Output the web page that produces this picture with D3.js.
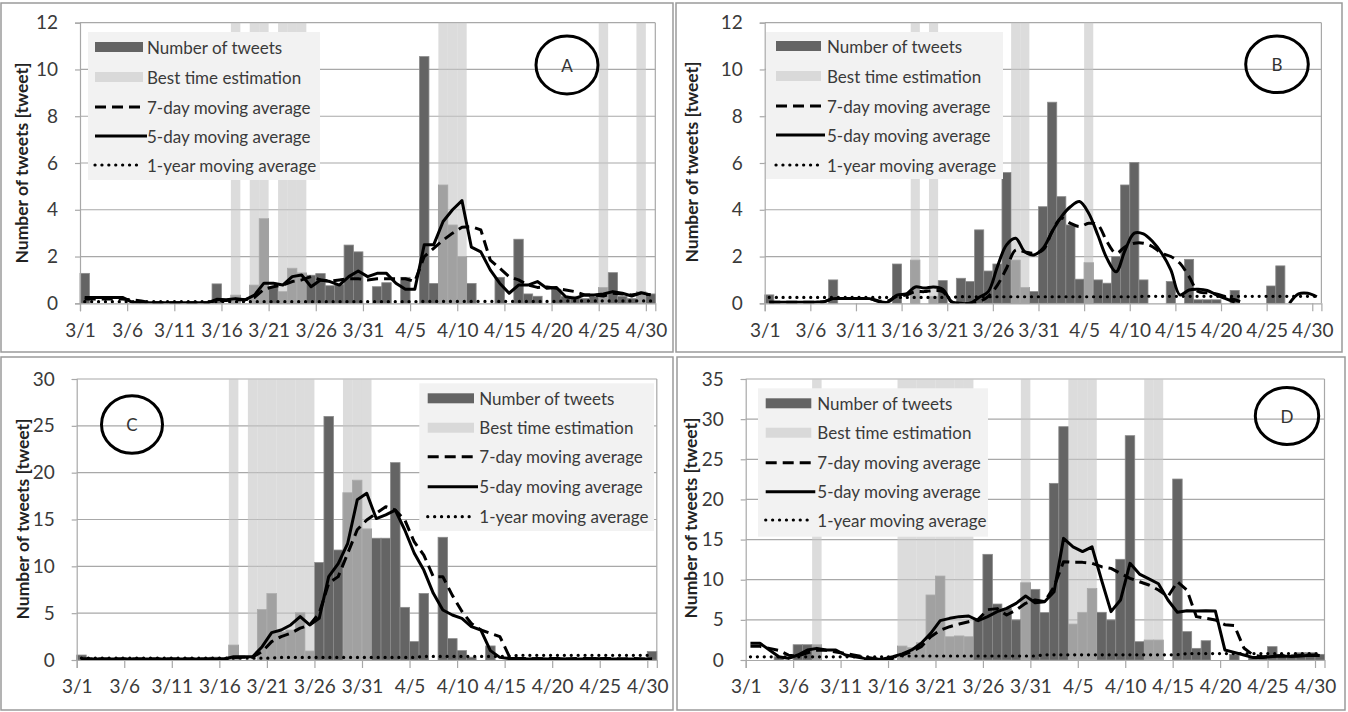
<!DOCTYPE html>
<html>
<head>
<meta charset="utf-8">
<script src="https://cdn.jsdelivr.net/npm/d3@7"></script>
<style>
body { margin: 0; background: #fff; }
svg { display: block; font-family: Lato, "Open Sans", sans-serif; }
</style>
</head>
<body>
<svg id="chart" width="1348" height="712"></svg>
<script>
var days = ["3/1","3/2","3/3","3/4","3/5","3/6","3/7","3/8","3/9","3/10",
  "3/11","3/12","3/13","3/14","3/15","3/16","3/17","3/18","3/19","3/20",
  "3/21","3/22","3/23","3/24","3/25","3/26","3/27","3/28","3/29","3/30",
  "3/31","4/1","4/2","4/3","4/4","4/5","4/6","4/7","4/8","4/9",
  "4/10","4/11","4/12","4/13","4/14","4/15","4/16","4/17","4/18","4/19",
  "4/20","4/21","4/22","4/23","4/24","4/25","4/26","4/27","4/28","4/29",
  "4/30"];
var tickDays = ["3/1","3/6","3/11","3/16","3/21","3/26","3/31","4/5","4/10","4/15","4/20","4/25","4/30"];
var legendLabels = ["Number of tweets","Best time estimation","7-day moving average","5-day moving average","1-year moving average"];

// panel A
var tweetsA = [1.28,0,0,0,0,0,0,0,0,0,
  0,0,0,0,0.83,0,0.35,0,0.78,3.62,
  0.7,0.5,1.5,1.3,1.2,1.27,0.75,0.8,2.49,2.2,
  0,0.71,0.88,0,1.11,0,10.55,0.85,5.06,3.35,
  2.0,0.85,0,0,1.11,0,2.74,0.4,0.3,0,
  0.6,0.3,0.3,0.2,0.3,0.68,1.31,0.3,0.2,0.5,
  0.4];
var ma5A = [0.25,0.25,0.25,0.25,0.25,0.05,0.02,0.02,0.02,0.02,
  0.02,0.02,0.02,0.02,0.17,0.15,0.2,0.15,0.35,0.86,
  0.86,0.78,1.14,1.21,0.71,1.0,0.93,0.78,1.14,1.38,
  1.14,1.28,1.28,0.86,0.6,0.6,2.5,2.5,3.5,4.0,
  4.39,2.4,2.2,1.43,0.86,0.43,0.78,0.78,0.93,0.64,
  0.68,0.28,0.21,0.36,0.36,0.4,0.5,0.43,0.31,0.45,
  0.36];
var ma7A = [0.18,0.18,0.18,0.18,0.18,0.15,0.1,0.02,0.02,0.02,
  0.02,0.02,0.02,0.02,0.12,0.12,0.15,0.15,0.25,0.6,
  0.71,0.78,0.93,1.0,1.14,1.0,0.95,1.0,1.05,1.05,
  1.0,1.05,1.05,1.05,1.05,0.93,2.0,2.35,2.7,3.0,
  3.25,3.28,3.14,1.85,1.5,1.14,1.0,0.78,0.68,0.7,
  0.64,0.57,0.5,0.36,0.36,0.31,0.43,0.4,0.36,0.43,
  0.36];
var ma1yA = [0.07,0.07,0.07,0.07,0.07,0.07,0.07,0.07,0.07,0.07,
  0.07,0.07,0.07,0.07,0.07,0.07,0.07,0.07,0.07,0.07,
  0.07,0.07,0.07,0.07,0.07,0.07,0.07,0.07,0.07,0.07,
  0.07,0.07,0.07,0.07,0.07,0.07,0.08,0.08,0.08,0.08,
  0.08,0.08,0.08,0.08,0.08,0.08,0.08,0.08,0.08,0.08,
  0.08,0.1,0.1,0.1,0.1,0.1,0.1,0.1,0.1,0.1,
  0.1];
var bestA = ["3/17","3/19","3/20","3/22","3/23","3/24","4/8","4/9","4/10","4/25","4/29"];

// panel B
var tweetsB = [0.36,0,0,0,0,0,0,1.0,0,0,
  0,0,0,0,1.68,0,1.85,0,0.3,0.97,
  0,1.07,0.93,3.14,1.38,1.68,5.59,1.85,0.68,0.5,
  4.13,8.6,4.56,3.35,1.03,1.74,1.0,0.86,2.0,5.06,
  6.02,1.0,0,0,0.93,0,1.88,0.15,0.15,0.15,
  0,0.55,0,0,0,0.74,1.6,0,0,0,
  0];
var ma5B = [0.05,0.05,0.05,0.05,0.05,0.05,0.07,0.2,0.2,0.2,
  0.2,0.2,0.08,0.05,0.35,0.4,0.7,0.65,0.7,0.6,
  0.07,0,0,0.26,0.5,1.57,2.5,2.78,2.2,2.07,
  2.35,3.07,3.7,4.13,4.35,3.85,2.92,1.92,1.35,2.28,
  3.0,2.97,2.64,2.14,1.43,0.36,0.57,0.6,0.55,0.36,
  0.2,0.05,null,null,null,null,null,0,0.4,0.43,
  0.28];
var ma7B = [0.05,0.05,0.05,0.05,0.05,0.05,0.07,0.2,0.2,0.2,
  0.2,0.2,0.1,0.1,0.3,0.35,0.5,0.5,0.55,0.5,
  0.05,0,0,0.07,0.3,0.78,1.5,2.28,2.2,2.14,
  2.28,3.07,3.64,3.42,3.28,3.42,3.35,2.64,2.14,2.42,
  2.57,2.57,2.42,2.14,2.0,1.71,1.14,0.5,0.45,0.4,
  0.28,0.15,0.02,null,null,null,null,null,null,null,
  null];
var ma1yB = [0.25,0.25,0.25,0.25,0.25,0.25,0.25,0.25,0.25,0.25,
  0.25,0.25,0.25,0.25,0.25,0.25,0.25,0.25,0.25,0.25,
  0.25,0.28,0.28,0.28,0.28,0.28,0.28,0.28,0.28,0.28,
  0.28,0.28,0.28,0.28,0.28,0.28,0.28,0.28,0.28,0.28,
  0.28,0.3,0.3,0.3,0.3,0.3,0.3,0.3,0.3,0.3,
  0.3,0.3,0.3,0.3,0.3,0.3,0.3,0.3,0.3,0.3,
  0.3];
var bestB = ["3/17","3/19","3/28","3/29","4/5"];

// panel C
var tweetsC = [0.53,0,0,0,0,0,0,0,0,0,
  0,0,0,0,0.3,0,1.6,0,0,5.4,
  7.1,3.0,3.2,5.05,0.96,10.4,26.0,11.74,17.86,19.2,
  14.0,13.0,13.0,21.07,5.62,1.96,7.1,0,13.1,2.28,
  1.0,0.3,0,1.5,0,0,0,0,0,0,
  0,0,0,0,0,0,0,0,0,0,
  0.9];
var ma5C = [0.1,0.1,0.1,0.1,0.1,0.1,0.1,0.1,0.1,0.1,
  0.1,0.1,0.1,0.1,0.1,0.1,0.35,0.35,0.35,1.42,
  2.92,3.2,3.74,4.63,3.74,4.45,8.9,10.3,12.46,17.1,
  17.8,15.1,15.5,16.0,13.88,11.4,9.6,7.12,5.34,4.8,
  4.45,3.56,3.2,1.0,0.28,0.15,0.15,0.12,0.15,0.1,
  0.15,0.12,0.1,0.12,0.15,0.1,0.12,0.1,0.1,0.12,
  0.1];
var ma7C = [0.1,0.1,0.1,0.1,0.1,0.1,0.1,0.1,0.1,0.1,
  0.1,0.1,0.1,0.1,0.1,0.1,0.25,0.3,0.3,0.9,
  1.96,2.5,2.85,3.4,3.74,4.98,8.2,8.9,11.4,13.9,
  14.95,15.66,16.37,16.0,14.95,12.6,11.2,8.9,8.9,6.9,
  5.2,3.9,3.2,2.85,2.5,0.36,0.15,0.15,0.12,0.15,
  0.15,0.12,0.15,0.15,0.12,0.15,0.15,0.12,0.15,0.12,
  0.12];
var ma1yC = [0.2,0.2,0.2,0.2,0.2,0.2,0.2,0.2,0.2,0.2,
  0.2,0.2,0.2,0.2,0.2,0.2,0.2,0.2,0.2,0.2,
  0.2,0.28,0.28,0.28,0.28,0.28,0.28,0.28,0.28,0.28,
  0.28,0.28,0.28,0.28,0.28,0.28,0.38,0.38,0.38,0.38,
  0.38,0.38,0.38,0.38,0.38,0.38,0.5,0.5,0.5,0.5,
  0.5,0.5,0.5,0.5,0.5,0.5,0.5,0.5,0.5,0.5,
  0.5];
var bestC = ["3/17","3/19","3/20","3/21","3/22","3/23","3/24","3/25","3/29","3/30","3/31"];

// panel D
var tweetsD = [0,0,0,0.4,0,1.9,1.9,1.9,0,0,
  0,0,0,0,0,0,1.74,1.54,2.16,8.1,
  10.46,2.9,3.0,2.9,4.98,13.16,6.97,6.43,4.98,9.63,
  8.8,5.9,22.0,29.06,4.48,5.94,8.92,5.94,4.98,12.54,
  27.94,2.28,2.49,2.49,0,22.54,3.53,1.45,2.4,0,
  0,0.7,0,0.3,0.3,1.66,0.5,0.3,0.9,0.9,
  0.7];
var ma5D = [2.08,2.08,1.25,0.41,0.2,0.62,1.25,1.45,1.25,1.25,
  0.62,0.4,0.2,0.1,0.12,0.42,0.75,1.25,2.08,3.32,
  4.9,5.19,5.4,5.48,4.9,5.4,6.02,6.43,7.06,7.97,
  7.14,7.26,8.5,15.15,14.1,13.5,14.1,9.96,6.02,7.47,
  12.04,10.7,10.1,9.5,7.47,5.94,6.14,6.1,6.14,6.1,
  1.25,0.95,0.62,0.3,0.3,0.45,0.5,0.45,0.5,0.6,
  0.55];
var ma7D = [1.7,1.7,1.45,1.2,0.6,0.5,0.9,1.2,1.2,1.0,
  0.8,0.6,0.4,0.2,0.1,0.2,0.62,1.04,1.66,2.9,
  3.7,4.15,4.48,4.77,5.06,6.27,6.4,5.6,6.23,7.06,
  7.47,7.26,9.13,12.25,12.16,12.16,12.04,11.62,11.41,10.79,
  10.17,9.75,9.34,8.72,7.89,9.75,8.72,5.4,5.19,4.98,
  4.4,4.3,1.5,0.6,0.4,0.5,0.55,0.5,0.55,0.6,
  0.6];
var ma1yD = [0.4,0.4,0.4,0.4,0.4,0.4,0.4,0.4,0.4,0.4,
  0.4,0.4,0.4,0.4,0.4,0.4,0.5,0.5,0.5,0.5,
  0.5,0.5,0.5,0.5,0.5,0.5,0.5,0.5,0.5,0.5,
  0.5,0.65,0.65,0.65,0.65,0.65,0.65,0.65,0.65,0.65,
  0.65,0.65,0.65,0.65,0.65,0.65,0.8,0.8,0.8,0.8,
  0.8,0.8,0.8,0.8,0.8,0.8,0.8,0.8,0.8,0.8,
  0.8];
var bestD = ["3/8","3/17","3/18","3/19","3/20","3/21","3/22","3/23","3/24","3/30","4/4","4/5","4/6","4/12","4/13"];

var panels = [
  {id: "A", tweets: tweetsA, ma7: ma7A, ma5: ma5A, ma1y: ma1yA, best: bestA, yMax: 12, yStep: 2, smooth: false,
   frame: [1, 3, 672, 349], plot: {x0: 80, x1: 655.3, yTop: 22.7, y0: 303.3}, title: [21, 163],
   legend: {x: 88, y: 32, w: 232, h: 148, sx0: 95, sx1: 143, tx: 147, rows: [47, 77, 107, 136, 165]},
   circle: {cx: 567, cy: 65, rx: 31, ry: 29}},
  {id: "B", tweets: tweetsB, ma7: ma7B, ma5: ma5B, ma1y: ma1yB, best: bestB, yMax: 12, yStep: 2, smooth: true,
   frame: [676, 3, 666, 349], plot: {x0: 764.7, x1: 1321.4, yTop: 22.7, y0: 303.3}, title: [691, 162],
   legend: {x: 766, y: 32, w: 237, h: 147, sx0: 776, sx1: 821, tx: 827, rows: [46, 76, 106, 135, 165]},
   circle: {cx: 1277, cy: 64.3, rx: 31.3, ry: 28.3}},
  {id: "C", tweets: tweetsC, ma7: ma7C, ma5: ma5C, ma1y: ma1yC, best: bestC, yMax: 30, yStep: 5, smooth: false,
   frame: [1, 357, 672, 353], plot: {x0: 76.7, x1: 656.8, yTop: 379, y0: 660}, title: [22, 519],
   legend: {x: 419.3, y: 383.3, w: 234.7, h: 147.7, sx0: 427.7, sx1: 474, tx: 479.3, rows: [398.3, 427.7, 456.7, 486.7, 516.7]},
   circle: {cx: 132, cy: 424.5, rx: 30.5, ry: 28.8}},
  {id: "D", tweets: tweetsD, ma7: ma7D, ma5: ma5D, ma1y: ma1yD, best: bestD, yMax: 35, yStep: 5, smooth: false,
   frame: [677, 357, 668, 353], plot: {x0: 745.7, x1: 1324.5, yTop: 379, y0: 660}, title: [690, 518],
   legend: {x: 758, y: 388.3, w: 230, h: 148.4, sx0: 765.7, sx1: 811.3, tx: 817.3, rows: [403.3, 432.7, 462.7, 491.7, 520]},
   circle: {cx: 1287, cy: 416, rx: 31.7, ry: 28.5}}
];

var svg = d3.select("#chart");
var barColor = "#646464";
var textColor = "#3a3a3a";
var gridColor = "#a8a8a8";

panels.forEach(function (p) {
  var g = svg.append("g");
  var pl = p.plot;

  g.append("rect")
    .attr("x", p.frame[0]).attr("y", p.frame[1])
    .attr("width", p.frame[2]).attr("height", p.frame[3])
    .attr("fill", "#fff").attr("stroke", "#9a9a9a").attr("stroke-width", 1.5);

  var x = d3.scaleBand().domain(days).range([pl.x0, pl.x1]).padding(0);
  var xIdx = d3.scaleLinear().domain([0, days.length]).range([pl.x0, pl.x1]);
  var y = d3.scaleLinear().domain([0, p.yMax]).range([pl.y0, pl.yTop]);
  var yTicks = d3.range(0, p.yMax + 0.001, p.yStep);

  // gridlines
  g.append("g").selectAll("line").data(yTicks.slice(1)).enter().append("line")
    .attr("x1", pl.x0).attr("x2", pl.x1)
    .attr("y1", function (d) { return y(d); }).attr("y2", function (d) { return y(d); })
    .attr("stroke", gridColor).attr("stroke-width", 1.2);

  // plot border right
  g.append("line").attr("x1", pl.x1).attr("x2", pl.x1).attr("y1", pl.yTop).attr("y2", pl.y0)
    .attr("stroke", gridColor).attr("stroke-width", 1.2);

  // bars
  g.append("g").selectAll("rect").data(p.tweets).enter().append("rect")
    .attr("x", function (d, i) { return x(days[i]); })
    .attr("width", x.bandwidth())
    .attr("y", function (d) { return y(d); })
    .attr("height", function (d) { return pl.y0 - y(d); })
    .attr("fill", barColor)
    .attr("stroke", function (d) { return d > 0 ? "#8a8a8a" : "none"; })
    .attr("stroke-width", 0.8);

  // best time estimation bands
  g.append("g").selectAll("rect").data(p.best).enter().append("rect")
    .attr("x", function (d) { return x(d); })
    .attr("width", x.bandwidth())
    .attr("y", pl.yTop)
    .attr("height", pl.y0 - pl.yTop)
    .attr("fill", "#c6c6c6")
    .attr("fill-opacity", 0.62);

  // axes
  var yAxis = g.append("g")
    .attr("transform", "translate(" + pl.x0 + ",0)")
    .call(d3.axisLeft(y).tickValues(yTicks).tickSize(5).tickPadding(17));
  var xAxis = g.append("g")
    .attr("transform", "translate(0," + pl.y0 + ")")
    .call(d3.axisBottom(xIdx)
      .tickValues(tickDays.map(function (d) { return days.indexOf(d); }))
      .tickFormat(function (i) { return days[i]; })
      .tickSize(8).tickPadding(12));
  [yAxis, xAxis].forEach(function (ax) {
    ax.select(".domain").attr("stroke", gridColor).attr("stroke-width", 1.2);
    ax.selectAll(".tick line").attr("stroke", gridColor).attr("stroke-width", 1.2);
    ax.selectAll(".tick text").attr("fill", textColor)
      .style("font-size", "19px").style("font-family", "Lato, sans-serif");
  });

  g.append("text")
    .attr("transform", "translate(" + p.title[0] + "," + p.title[1] + ") rotate(-90)")
    .attr("text-anchor", "middle").attr("dominant-baseline", "central")
    .style("font-size", "17.5px").style("font-weight", "bold").attr("fill", "#222")
    .text("Number of tweets [tweet]");

  // lines
  var clipId = "clip" + p.id;
  svg.append("clipPath").attr("id", clipId).append("rect")
    .attr("x", pl.x0).attr("y", pl.yTop - 2).attr("width", pl.x1 - pl.x0).attr("height", pl.y0 - pl.yTop + 2);
  var line = d3.line()
    .defined(function (d) { return d != null; })
    .x(function (d, i) { return x(days[i]) + x.bandwidth() / 2; })
    .y(function (d) { return y(d); })
    .curve(p.smooth ? d3.curveCatmullRom.alpha(0.5) : d3.curveLinear);
  var lg = g.append("g").attr("clip-path", "url(#" + clipId + ")");
  lg.append("path").attr("d", line(p.ma1y)).attr("fill", "none")
    .attr("stroke", "#000").attr("stroke-width", 3.2).attr("stroke-linecap", "round")
    .attr("stroke-dasharray", "0.1,6.8");
  lg.append("path").attr("d", line(p.ma7)).attr("fill", "none")
    .attr("stroke", "#000").attr("stroke-width", 3).attr("stroke-dasharray", "11,6")
    .attr("stroke-linejoin", "round");
  lg.append("path").attr("d", line(p.ma5)).attr("fill", "none")
    .attr("stroke", "#000").attr("stroke-width", 3).attr("stroke-linejoin", "round");

  // legend
  var L = p.legend;
  var leg = g.append("g");
  leg.append("rect").attr("x", L.x).attr("y", L.y).attr("width", L.w).attr("height", L.h).attr("fill", "#f2f2f2");
  legendLabels.forEach(function (lab, k) {
    var ry = L.rows[k];
    if (k < 2) {
      leg.append("rect").attr("x", L.sx0).attr("y", ry - 5).attr("width", L.sx1 - L.sx0).attr("height", 10)
        .attr("fill", k === 0 ? barColor : "#d9d9d9");
    } else {
      var s = leg.append("line").attr("x1", L.sx0).attr("x2", L.sx1 + (k === 3 ? 4 : 0))
        .attr("y1", ry).attr("y2", ry).attr("stroke", "#000");
      if (k === 2) s.attr("stroke-width", 3).attr("stroke-dasharray", "11,6");
      if (k === 3) s.attr("stroke-width", 3);
      if (k === 4) s.attr("stroke-width", 3.2).attr("stroke-linecap", "round").attr("stroke-dasharray", "0.1,6.8");
    }
    leg.append("text").attr("x", L.tx).attr("y", ry).attr("dominant-baseline", "central")
      .attr("fill", textColor).style("font-size", "17px").text(lab);
  });

  // panel label
  g.append("ellipse").attr("cx", p.circle.cx).attr("cy", p.circle.cy)
    .attr("rx", p.circle.rx).attr("ry", p.circle.ry)
    .attr("fill", "none").attr("stroke", "#000").attr("stroke-width", 3);
  g.append("text").attr("x", p.circle.cx).attr("y", p.circle.cy)
    .attr("text-anchor", "middle").attr("dominant-baseline", "central")
    .style("font-size", "17px").attr("fill", "#333").text(p.id);
});
</script>
</body>
</html>
